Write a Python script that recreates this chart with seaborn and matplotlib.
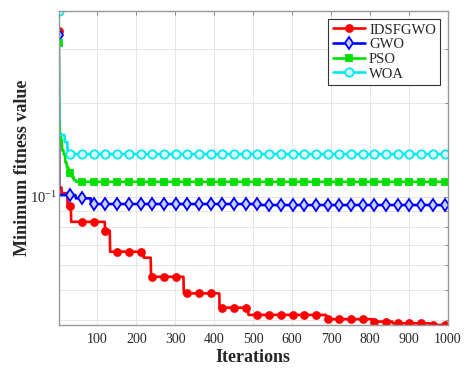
import numpy as np
import pandas as pd
import matplotlib
matplotlib.use("Agg")
import matplotlib.pyplot as plt
import seaborn as sns
from matplotlib.ticker import LogLocator, NullFormatter

# change points of each convergence curve (iteration, best fitness so far)
idsfgwo_iter = [1, 2, 9, 24, 33, 120, 133, 219, 238, 322, 414, 488, 688, 807, 858, 953]
idsfgwo_val = [0.343, 0.107, 0.1026, 0.0932, 0.0829, 0.0776, 0.0664, 0.0635, 0.0551,
               0.0487, 0.0438, 0.0415, 0.0402, 0.0395, 0.0390, 0.0385]
gwo_iter = [1, 2, 45, 84, 520]
gwo_val = [0.332, 0.1011, 0.0987, 0.0946, 0.0939]
pso_iter = [1, 2, 4, 7, 10, 14, 18, 22, 26, 31, 35, 40, 46]
pso_val = [0.313, 0.180, 0.160, 0.152, 0.141, 0.137, 0.129, 0.1245, 0.1218,
           0.1188, 0.1156, 0.1130, 0.1116]
woa_iter = [1, 2, 17, 24, 28]
woa_val = [0.397, 0.158, 0.150, 0.140, 0.1371]

labels = ["IDSFGWO", "GWO", "PSO", "WOA"]
x_ticks = [100, 200, 300, 400, 500, 600, 700, 800, 900, 1000]
n_iter = 1000

iterations = np.arange(1, n_iter + 1)


def curve(its, vals):
    # best-so-far curve: hold each value until the next change
    return pd.Series(vals, index=its).reindex(iterations).ffill().values


series = {
    "IDSFGWO": curve(idsfgwo_iter, idsfgwo_val),
    "GWO": curve(gwo_iter, gwo_val),
    "PSO": curve(pso_iter, pso_val),
    "WOA": curve(woa_iter, woa_val),
}

styles = {
    "IDSFGWO": dict(color="#ff0000", marker="o", markerfacecolor="#ff0000", markersize=5),
    "GWO": dict(color="#0000ff", marker="d", markerfacecolor="#c8d0ff", markersize=6),
    "PSO": dict(color="#00e000", marker="s", markerfacecolor="#00e000", markersize=5),
    "WOA": dict(color="#00e8f0", marker="o", markerfacecolor="#d8fbff", markersize=6),
}

sns.set_theme(style="white")
plt.rcParams["font.family"] = ["Liberation Serif", "DejaVu Serif"]
plt.rcParams["mathtext.default"] = "regular"

fig = plt.figure(figsize=(4.72, 3.69), dpi=100)
ax = fig.add_axes([0.1244, 0.1192, 0.8248, 0.8508])

for name in labels:
    st = styles[name]
    sns.lineplot(x=iterations, y=series[name], ax=ax, label=name, linewidth=1.9,
                 markevery=30, markeredgecolor=st["color"], markeredgewidth=1.3,
                 errorbar=None, **st)

ax.set_yscale("log")
all_vals = np.concatenate(list(series.values()))
ax.set_xlim(1, n_iter)
ax.set_ylim(all_vals.min(), all_vals.max())
ax.set_xticks(x_ticks)
ax.set_xticklabels([str(t) for t in x_ticks], fontsize=10)
ax.yaxis.set_major_locator(LogLocator(base=10))
ax.yaxis.set_minor_locator(LogLocator(base=10, subs=np.arange(2, 10)))
ax.yaxis.set_minor_formatter(NullFormatter())
for lab in ax.get_yticklabels():
    lab.set_fontsize(10.5)

ax.grid(True, which="major", axis="x", color="#e6e6e6", linewidth=0.7)
ax.grid(True, which="both", axis="y", color="#e6e6e6", linewidth=0.7)
ax.set_axisbelow(True)
ax.tick_params(axis="both", which="both", direction="in", top=True, right=True,
               color="#888888", width=0.7)
ax.tick_params(axis="x", which="major", length=3, pad=6)
ax.tick_params(axis="y", which="major", length=3, pad=1.5)
ax.tick_params(which="minor", length=2)
for sp in ax.spines.values():
    sp.set_color("#999999")
    sp.set_linewidth(1.0)

ax.set_xlabel("Iterations", fontsize=13, fontweight="bold", labelpad=2)
ax.set_ylabel("Minimum fitness value", fontsize=13, fontweight="bold", labelpad=-1)

leg = ax.legend(loc="upper right", bbox_to_anchor=(0.98, 0.975), borderaxespad=0,
                fontsize=10.5, frameon=True, fancybox=False, framealpha=1,
                edgecolor="#333333", handlelength=2.2, labelspacing=0.1,
                borderpad=0.3, handletextpad=0.3)
leg.get_frame().set_linewidth(0.8)

fig.savefig("out.png", dpi=100)
